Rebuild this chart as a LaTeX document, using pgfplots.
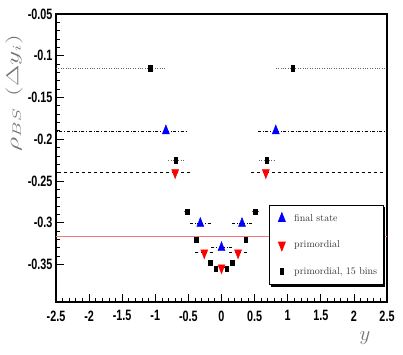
\documentclass[border=0pt]{standalone}
\usepackage{fontspec}
\usepackage{pgfplots}
\pgfplotsset{compat=1.18}
\usetikzlibrary{shadows}
\newfontfamily\hv[FakeStretch=0.72]{Liberation Sans}
\definecolor{salmon}{RGB}{240,120,120}

\begin{document}
\begin{tikzpicture}
\begin{axis}[
  scale only axis, width=331pt, height=288pt,
  xmin=-2.5, xmax=2.5, ymin=-0.395, ymax=-0.05,
  xtick={-2.5,-2,...,2.5}, ytick={-0.35,-0.3,...,-0.05},
  minor tick num=4,
  tick pos=left, tick align=inside,
  major tick length=8pt, minor tick length=4pt,
  every tick/.style={black, line width=0.8pt},
  axis line style={line width=2.2pt},
  ticklabel style={font=\hv\bfseries\fontsize{15}{15}\selectfont},
  xticklabel style={yshift=-5pt},
  /pgf/number format/assume math mode=true,
  /pgf/number format/fixed,
  clip mode=individual,
  legend cell align=left,
  legend image code/.code={\path[draw=none, fill=none] (0cm,0cm) (0.66cm,0cm);
    \draw[mark repeat=2,mark phase=2,#1]
    plot coordinates {(0.05cm,0cm) (0.33cm,0cm) (0.61cm,0cm)};},
  legend style={at={(rel axis cs:0.644,0.337)}, anchor=north west,
    draw=black, line width=0.6pt, fill=white,
    drop shadow={shadow xshift=2pt, shadow yshift=-2pt, fill=black, opacity=1},
    font=\fontsize{10}{12}\selectfont, text=black!80,
    row sep=14pt, inner xsep=3pt, inner ysep=7pt,
    nodes={inner xsep=3pt}},
]
% final state
\addplot[only marks, mark=triangle*, mark size=6pt, color=blue,
  mark options={xscale=0.68},
  error bars/.cd, x dir=both, x explicit, error mark=none,
  error bar style={black, dash dot, line width=0.7pt}]
  coordinates {
  (-0.84,-0.190) += (0.30,0) -= (1.66,0)
  (0.82,-0.190)  += (1.68,0) -= (0.29,0)
  (-0.32,-0.301) += (0.16,0) -= (0.17,0)
  (0.31,-0.301)  += (0.17,0) -= (0.15,0)
  (0.00,-0.330)  += (0.165,0) -= (0.165,0)
};
\addlegendentry{final state}
% primordial
\addplot[only marks, mark=triangle*, mark size=6pt, color=red,
  mark options={xscale=0.68, rotate=180},
  error bars/.cd, x dir=both, x explicit, error mark=none,
  error bar style={black, dashed, line width=0.7pt}]
  coordinates {
  (-0.70,-0.240) += (0.26,0) -= (1.80,0)
  (0.67,-0.240)  += (1.83,0) -= (0.25,0)
  (-0.26,-0.336) += (0.16,0) -= (0.17,0)
  (0.25,-0.336)  += (0.17,0) -= (0.17,0)
  (0.00,-0.354)  += (0.10,0) -= (0.10,0)
};
\addlegendentry{primordial}
% primordial, 15 bins
\addplot[only marks, mark=square*, mark size=1.7pt, color=black,
  mark options={yscale=1.6},
  error bars/.cd, x dir=both, x explicit, error mark=none,
  error bar style={black!60, dotted, line width=0.8pt}]
  coordinates {
  (-1.08,-0.115) += (0.24,0) -= (1.42,0)
  (1.08,-0.115)  += (1.42,0) -= (0.26,0)
  (-0.69,-0.225) += (0.12,0) -= (0.12,0)
  (0.68,-0.225)  += (0.12,0) -= (0.12,0)
  (-0.52,-0.287) += (0.07,0) -= (0.07,0)
  (0.51,-0.287)  += (0.07,0) -= (0.07,0)
  (-0.38,-0.320) += (0.03,0) -= (0.03,0)
  (0.37,-0.320)  += (0.03,0) -= (0.03,0)
  (-0.17,-0.348) += (0,0) -= (0,0)
  (0.16,-0.348)  += (0,0) -= (0,0)
  (-0.09,-0.355) += (0,0) -= (0,0)
  (0.08,-0.355)  += (0,0) -= (0,0)
};
\addlegendentry{primordial, 15 bins}
\addplot[salmon, line width=0.9pt, forget plot] coordinates {(-2.5,-0.316) (2.5,-0.316)};
\coordinate (bl) at (rel axis cs:0,0);
\coordinate (tr) at (rel axis cs:1,1);
\end{axis}
\node[rotate=90, text=black!55] at ([shift={(-42pt,209pt)}]bl)
  {\scalebox{1.6}[1.0]{\fontsize{18}{22}\selectfont$\rho_{BS}\;\,(\Delta y_i)$}};
\node[text=black!55] at ([shift={(309pt,-36pt)}]bl)
  {\fontsize{20}{22}\selectfont$y$};
\pgfresetboundingbox
\path[use as bounding box] ([shift={(-56pt,-52pt)}]bl) rectangle ([shift={(16pt,14pt)}]tr);
\end{tikzpicture}
\end{document}
